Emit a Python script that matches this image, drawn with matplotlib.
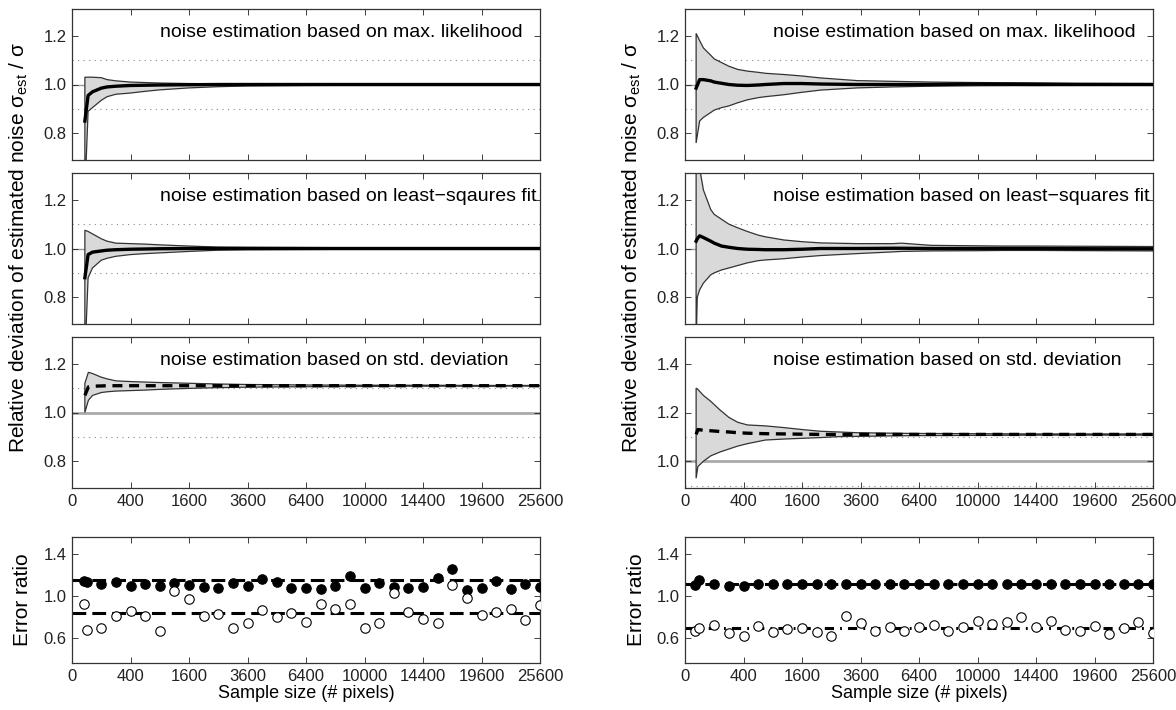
import numpy as np
import matplotlib
matplotlib.use("Agg")
from matplotlib import pyplot as plt

plt.rcParams['font.family'] = ['Liberation Sans', 'DejaVu Sans']
plt.rcParams['font.size'] = 12
plt.rcParams['mathtext.fontset'] = 'custom'
plt.rcParams['mathtext.rm'] = 'Liberation Sans'
plt.rcParams['mathtext.it'] = 'Liberation Sans:italic'

# x axis is sqrt(sample size); ticks labelled with the sample size
xticks = [0, 20, 40, 60, 80, 100, 120, 140, 160]
xticklabels = ['0', '400', '1600', '3600', '6400', '10000', '14400', '19600', '25600']

# ---- left column: band (upper/lower) and mean of sigma_est / sigma ----
l_ml_x = [4.4, 5.5, 7, 10, 12, 15, 20, 25, 30, 40, 50, 60, 80, 100, 120, 140, 160]
l_ml_up = [1.03, 1.03, 1.03, 1.028, 1.02, 1.015, 1.01, 1.008, 1.006, 1.004, 1.003, 1.002, 1.002, 1.001, 1.001, 1.001, 1.001]
l_ml_lo = [0.55, 0.89, 0.905, 0.935, 0.95, 0.96, 0.965, 0.972, 0.978, 0.986, 0.991, 0.994, 0.996, 0.997, 0.998, 0.998, 0.999]
l_ml_mean = [0.85, 0.955, 0.97, 0.985, 0.99, 0.993, 0.996, 0.997, 0.998, 0.999, 1.0, 1.0, 1.0, 1.0, 1.0, 1.0, 1.0]

l_ls_x = [4.4, 5.5, 7, 10, 12, 15, 20, 25, 30, 40, 50, 60, 80, 100, 120, 140, 160]
l_ls_up = [1.075, 1.07, 1.06, 1.04, 1.03, 1.022, 1.02, 1.018, 1.015, 1.01, 1.006, 1.005, 1.004, 1.003, 1.002, 1.002, 1.002]
l_ls_lo = [0.55, 0.88, 0.92, 0.952, 0.96, 0.968, 0.975, 0.979, 0.982, 0.988, 0.993, 0.995, 0.996, 0.997, 0.998, 0.998, 0.998]
l_ls_mean = [0.88, 0.975, 0.985, 0.99, 0.993, 0.995, 0.997, 0.998, 0.999, 1.0, 1.0, 1.0, 1.0, 1.0, 1.0, 1.0, 1.0]

l_sd_x = [4.4, 5.6, 7, 10, 12, 15, 20, 25, 30, 40, 50, 60, 80, 100, 120, 140, 160]
l_sd_up = [1.12, 1.165, 1.16, 1.145, 1.138, 1.13, 1.127, 1.125, 1.123, 1.12, 1.117, 1.115, 1.113, 1.112, 1.112, 1.111, 1.111]
l_sd_lo = [1.0, 1.05, 1.07, 1.082, 1.085, 1.088, 1.09, 1.092, 1.095, 1.099, 1.102, 1.104, 1.106, 1.107, 1.108, 1.108, 1.109]
l_sd_mean = [1.07, 1.105, 1.108, 1.109, 1.11, 1.11, 1.11, 1.11, 1.11, 1.11, 1.11, 1.11, 1.11, 1.11, 1.11, 1.11, 1.11]

# ---- right column ----
r_ml_x = [3.8, 5, 6.3, 8.8, 10, 12.5, 15, 18, 21.3, 25, 27.5, 33.8, 40, 46.3, 58.8, 71, 84, 100, 120, 134, 160]
r_ml_up = [1.21, 1.18, 1.15, 1.12, 1.105, 1.09, 1.075, 1.062, 1.055, 1.05, 1.046, 1.041, 1.035, 1.027, 1.016, 1.013, 1.01, 1.008, 1.007, 1.005, 1.004]
r_ml_lo = [0.76, 0.85, 0.865, 0.885, 0.895, 0.905, 0.912, 0.925, 0.937, 0.946, 0.95, 0.958, 0.968, 0.977, 0.986, 0.99, 0.993, 0.995, 0.996, 0.997, 0.997]
r_ml_mean = [0.985, 1.02, 1.02, 1.015, 1.01, 1.005, 1.0, 0.997, 0.996, 0.998, 1.0, 1.004, 1.004, 1.002, 1.0, 1.0, 1.0, 1.002, 1.0, 1.0, 1.0]

r_ls_x = [3.8, 4.2, 5, 6.3, 8.8, 10, 12.5, 15, 18, 21.3, 25, 27.5, 33.8, 40, 46.3, 58.8, 71, 74, 84, 100, 109, 120, 140, 160]
r_ls_up = [1.45, 1.42, 1.33, 1.24, 1.16, 1.14, 1.12, 1.1, 1.085, 1.07, 1.055, 1.048, 1.035, 1.028, 1.023, 1.02, 1.02, 1.022, 1.013, 1.011, 1.01, 1.01, 1.009, 1.008]
r_ls_lo = [0.6, 0.80, 0.83, 0.858, 0.892, 0.9, 0.912, 0.92, 0.93, 0.941, 0.95, 0.953, 0.958, 0.965, 0.971, 0.979, 0.986, 0.988, 0.99, 0.991, 0.992, 0.992, 0.991, 0.99]
r_ls_mean = [1.03, 1.04, 1.052, 1.045, 1.03, 1.022, 1.01, 1.005, 1.0, 0.997, 0.996, 0.995, 0.995, 0.997, 1.0, 1.0, 1.001, 1.001, 1.0, 1.0, 1.0, 1.0, 0.999, 0.999]

r_sd_x = [3.8, 4.4, 6.3, 8.8, 12, 15, 18, 21.3, 27.5, 33.8, 40, 46.3, 52.6, 58.8, 71, 77.6, 100, 120, 140, 160]
r_sd_up = [1.30, 1.295, 1.27, 1.246, 1.21, 1.18, 1.16, 1.149, 1.145, 1.138, 1.13, 1.123, 1.12, 1.117, 1.115, 1.114, 1.113, 1.112, 1.112, 1.112]
r_sd_lo = [0.93, 0.978, 1.0, 1.022, 1.038, 1.05, 1.062, 1.072, 1.087, 1.091, 1.094, 1.097, 1.101, 1.102, 1.104, 1.105, 1.106, 1.107, 1.107, 1.107]
r_sd_mean = [1.11, 1.13, 1.127, 1.125, 1.122, 1.12, 1.117, 1.115, 1.113, 1.112, 1.111, 1.11, 1.11, 1.11, 1.11, 1.11, 1.11, 1.11, 1.11, 1.11]

# ---- error ratio scatter ----
err_x = [4, 5, 10, 15, 20, 25, 30, 35, 40, 45, 50, 55, 60, 65, 70, 75, 80, 85, 90,
         95, 100, 105, 110, 115, 120, 125, 130, 135, 140, 145, 150, 155, 160]
l_err_filled = [1.14, 1.136, 1.111, 1.136, 1.095, 1.111, 1.089, 1.12, 1.104, 1.088, 1.079, 1.12, 1.095,
                1.158, 1.133, 1.079, 1.07, 1.063, 1.095, 1.19, 1.073, 1.126, 1.088, 1.079, 1.088,
                1.174, 1.253, 1.054, 1.07, 1.142, 1.063, 1.117, 1.088]
l_err_open = [0.924, 0.677, 0.693, 0.804, 0.858, 0.81, 0.661, 1.041, 0.972, 0.81, 0.826, 0.69, 0.74,
              0.864, 0.795, 0.836, 0.747, 0.921, 0.874, 0.921, 0.69, 0.74, 1.025, 0.848, 0.779,
              0.74, 1.101, 0.975, 0.82, 0.848, 0.874, 0.773, 0.912]
l_err_filled_ref = 1.15
l_err_open_ref = 0.836

r_err_x = [3.5, 4.75, 10, 15, 20, 25, 30, 35, 40, 45, 50, 55, 60, 65, 70, 75, 80, 85, 90,
           95, 100, 105, 110, 115, 120, 125, 130, 135, 140, 145, 150, 155, 160]
r_err_filled = [1.10, 1.15, 1.11, 1.095, 1.095, 1.115, 1.11, 1.11, 1.115, 1.11, 1.11, 1.11, 1.11,
                1.11, 1.11, 1.11, 1.11, 1.11, 1.11, 1.11, 1.11, 1.11, 1.11, 1.11, 1.11,
                1.11, 1.11, 1.11, 1.11, 1.11, 1.11, 1.11, 1.11]
r_err_open = [0.668, 0.69, 0.722, 0.646, 0.615, 0.716, 0.659, 0.684, 0.69, 0.652, 0.615, 0.81, 0.741,
              0.668, 0.70, 0.668, 0.706, 0.725, 0.668, 0.70, 0.757, 0.731, 0.754, 0.795, 0.70,
              0.757, 0.675, 0.662, 0.716, 0.637, 0.694, 0.754, 0.646]
r_err_filled_ref = 1.11
r_err_open_ref = 0.695

titles = ['noise estimation based on max. likelihood',
          'noise estimation based on least\u2212sqaures fit',
          'noise estimation based on std. deviation']
titles_r = ['noise estimation based on max. likelihood',
            'noise estimation based on least\u2212squares fit',
            'noise estimation based on std. deviation']

TICK_FS = 12
TITLE_FS = 14
YLAB_FS = 15
XLAB_FS = 13


def style_axes(ax, ylim, yticks):
    ax.set_xlim(0, 160)
    ax.set_ylim(*ylim)
    ax.set_xticks(xticks)
    ax.set_yticks(yticks)
    ax.set_yticklabels(['%.1f' % v for v in yticks])
    ax.tick_params(direction='in', length=4, width=0.6, top=True, right=True,
                   colors='#222222', labelcolor='#222222', labelsize=TICK_FS, pad=4)
    for sp in ax.spines.values():
        sp.set_linewidth(0.9)
        sp.set_color('#333333')


def band_panel(ax, x, up, lo, mean, title, ylim, yticks, dashed=False, title_y=1.2):
    style_axes(ax, ylim, yticks)
    ax.set_xticklabels([])
    for yv in (0.9, 1.1):
        ax.axhline(yv, color='#888888', lw=0.8, ls=(0, (1, 4)), zorder=1)
    if dashed:
        ax.axhline(1.0, color='#aaaaaa', lw=2.0, zorder=1)
    else:
        ax.axhline(1.0, color='#999999', lw=1.0, zorder=1)
    px = np.concatenate([x, x[::-1]])
    py = np.concatenate([up, lo[::-1]])
    ax.fill(px, py, facecolor='#d9d9d9', edgecolor='#333333', lw=0.9, zorder=2)
    ax.plot(x, mean, color='black', lw=2.4, ls=(0, (3, 2)) if dashed else '-', zorder=3)
    ax.text(30, title_y + 0.015, title, ha='left', va='center', fontsize=TITLE_FS, zorder=4)


def error_panel(ax, x, filled, opened, fref, oref, open_ls):
    style_axes(ax, (0.36, 1.56), [0.6, 1.0, 1.4])
    ax.set_xticklabels(xticklabels)
    ax.axhline(fref, color='black', lw=2.2, ls=(0, (4.5, 2)), zorder=2)
    ax.axhline(oref, color='black', lw=2.2, ls=open_ls, zorder=2)
    ax.plot(x, filled, 'o', ms=6.8, mfc='black', mec='black', mew=0.8, zorder=3)
    ax.plot(x, opened, 'o', ms=6.8, mfc='white', mec='black', mew=0.8, zorder=3)
    ax.set_xlabel('Sample size (# pixels)', fontsize=XLAB_FS, labelpad=1)


fig = plt.figure(figsize=(11.76, 7.10), dpi=100)

col_x = [72 / 1176, 685 / 1176]
col_w = 468 / 1176
row_b = [1 - 160 / 710, 1 - 324 / 710, 1 - 488 / 710]
row_h = 151 / 710
ylab_x = [19 / 1176, 632 / 1176]

left_sets = [(l_ml_x, l_ml_up, l_ml_lo, l_ml_mean),
             (l_ls_x, l_ls_up, l_ls_lo, l_ls_mean),
             (l_sd_x, l_sd_up, l_sd_lo, l_sd_mean)]
right_sets = [(r_ml_x, r_ml_up, r_ml_lo, r_ml_mean),
              (r_ls_x, r_ls_up, r_ls_lo, r_ls_mean),
              (r_sd_x, r_sd_up, r_sd_lo, r_sd_mean)]

for col, sets, tl in ((0, left_sets, titles), (1, right_sets, titles_r)):
    for i, (x, up, lo, mean) in enumerate(sets):
        ax = fig.add_axes([col_x[col], row_b[i], col_w, row_h])
        x, up, lo, mean = map(np.asarray, (x, up, lo, mean))
        if i < 2:
            band_panel(ax, x, up, lo, mean, tl[i], (0.69, 1.31), [0.8, 1.0, 1.2])
        elif col == 0:
            band_panel(ax, x, up, lo, mean, tl[i], (0.69, 1.31), [0.8, 1.0, 1.2], dashed=True)
        else:
            band_panel(ax, x, up, lo, mean, tl[i], (0.89, 1.51), [1.0, 1.2, 1.4],
                       dashed=True, title_y=1.4)
        if i == 2:
            ax.set_xticklabels(xticklabels)
    fig.text(ylab_x[col], 1 - 248 / 710,
             'Relative deviation of estimated noise \u03c3$_{\\mathrm{est}}$ / \u03c3',
             rotation=90, ha='center', va='center', fontsize=YLAB_FS)
    fig.text(ylab_x[col] + 4 / 1176, 1 - 600 / 710, 'Error ratio',
             rotation=90, ha='center', va='center', fontsize=YLAB_FS)

ax_l = fig.add_axes([col_x[0], 1 - 663 / 710, col_w, 126 / 710])
error_panel(ax_l, err_x, l_err_filled, l_err_open, l_err_filled_ref, l_err_open_ref, (0, (4.5, 2)))
ax_r = fig.add_axes([col_x[1], 1 - 663 / 710, col_w, 126 / 710])
error_panel(ax_r, r_err_x, r_err_filled, r_err_open, r_err_filled_ref, r_err_open_ref,
            (0, (3, 2, 0.6, 2)))

fig.savefig('out.png', dpi=100)
